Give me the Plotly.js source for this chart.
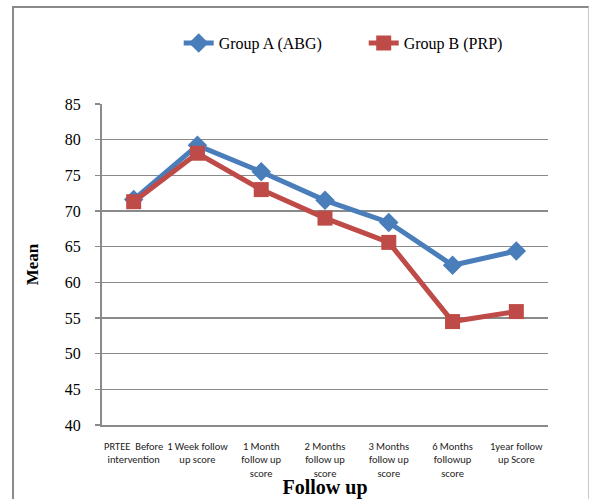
<!DOCTYPE html>
<html>
<head>
<meta charset="utf-8">
<script src="https://cdn.plot.ly/plotly-3.0.1.min.js"></script>
<style>
  html, body { margin: 0; padding: 0; background: #fff; }
  #wrap { position: relative; width: 589px; height: 499px; overflow: hidden; }
  #chart { position: absolute; left: 0; top: 0; width: 589px; height: 499px; }
  #frame { position: absolute; left: 12px; top: 6px; width: 574px; height: 520px;
           border-left: 2px solid #8a8a8a; border-top: 2px solid #8a8a8a; border-right: 1px solid #c8c8c8;
           pointer-events: none; }
</style>
</head>
<body>
<div id="wrap">
  <div id="chart"></div>
  <div id="frame"></div>
</div>
<script>
const categories = [
  "PRTEE  Before<br>intervention",
  "1 Week follow<br>up score",
  "1 Month<br>follow up<br>score",
  "2 Months<br>follow up<br>score",
  "3 Months<br>follow up<br>score",
  "6 Months<br>followup<br>score",
  "1year follow<br>up Score"
];
const groupA = [71.6, 79.2, 75.5, 71.5, 68.4, 62.4, 64.4];
const groupB = [71.3, 78.1, 73.0, 69.0, 65.6, 54.5, 55.9];
const seriesNames = ["Group A (ABG)", "Group B (PRP)"];
const yTicks = [40, 45, 50, 55, 60, 65, 70, 75, 80, 85];

const serif = "Liberation Serif, Times New Roman, serif";
const narrow = "Carlito, Liberation Sans Narrow, Liberation Sans, Arial, sans-serif";

const traces = [
  {
    x: categories, y: groupA, name: seriesNames[0], type: "scatter", mode: "lines+markers",
    line: { color: "#4A7EBB", width: 5 },
    marker: { symbol: "diamond", size: 15, color: "#4A7EBB" }
  },
  {
    x: categories, y: groupB, name: seriesNames[1], type: "scatter", mode: "lines+markers",
    line: { color: "#BE4B48", width: 5 },
    marker: { symbol: "square", size: 15, color: "#BE4B48" }
  }
];

const layout = {
  width: 589, height: 499,
  margin: { l: 102, r: 41, t: 104, b: 74 },
  paper_bgcolor: "#fff", plot_bgcolor: "#fff",
  font: { family: serif },
  showlegend: true,
  legend: {
    orientation: "h", x: 0.172, xanchor: "left", y: 1.19, yanchor: "middle",
    font: { family: serif, size: 16, color: "#000" },
    entrywidth: 140, entrywidthmode: "pixels",
    traceorder: "normal"
  },
  xaxis: {
    type: "category",
    tickvals: categories, ticktext: categories,
    showgrid: false, zeroline: false,
    showline: true, linecolor: "#8a8a8a", linewidth: 2,
    ticks: "", tickfont: { family: narrow, size: 10.5, color: "#222" },
    tickangle: 0, ticklabelstandoff: 10,
    title: { text: "<b>Follow up</b>", font: { family: serif, size: 20, color: "#000" }, standoff: 4 },
    automargin: false
  },
  yaxis: {
    range: [40, 85], tickvals: yTicks,
    showgrid: true, gridcolor: "#8a8a8a", gridwidth: 1.5,
    zeroline: false, showline: true, linecolor: "#8a8a8a", linewidth: 2,
    ticks: "outside", ticklen: 5, tickcolor: "#8a8a8a", tickwidth: 1.5,
    ticklabelstandoff: 11,
    tickfont: { family: serif, size: 16, color: "#000" },
    title: { text: "<b>Mean</b>", font: { family: serif, size: 17, color: "#000" }, standoff: 22 },
    automargin: false
  }
};

Plotly.newPlot("chart", traces, layout, { displayModeBar: false, staticPlot: true });
</script>
</body>
</html>
